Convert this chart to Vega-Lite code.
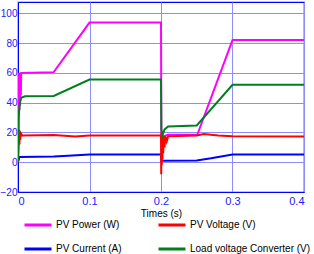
{
  "$schema": "https://vega.github.io/schema/vega-lite/v6.json",
  "width": 286,
  "height": 190,
  "autosize": "none",
  "padding": {"left": 18, "top": 2, "right": 10, "bottom": 62},
  "config": {
    "font": "Liberation Sans",
    "view": {"stroke": "#0000ff", "strokeWidth": 1.2},
    "axis": {
      "domainColor": "#0000ff",
      "gridColor": "#8c8cff",
      "gridOpacity": 1,
      "gridWidth": 1,
      "ticks": false,
      "labelColor": "#2020ff",
      "labelFontSize": 11,
      "titleFontWeight": "normal",
      "titleColor": "#000000",
      "titleFontSize": 10
    }
  },
  "data": {
    "values": [
      {"t": 0, "v": 0, "s": "PV Power (W)"},
      {"t": 0.001, "v": 40, "s": "PV Power (W)"},
      {"t": 0.0015, "v": 60, "s": "PV Power (W)"},
      {"t": 0.002, "v": 35, "s": "PV Power (W)"},
      {"t": 0.0025, "v": 60, "s": "PV Power (W)"},
      {"t": 0.003, "v": 38, "s": "PV Power (W)"},
      {"t": 0.0035, "v": 60, "s": "PV Power (W)"},
      {"t": 0.004, "v": 45, "s": "PV Power (W)"},
      {"t": 0.0045, "v": 60, "s": "PV Power (W)"},
      {"t": 0.005, "v": 60, "s": "PV Power (W)"},
      {"t": 0.05, "v": 60.5, "s": "PV Power (W)"},
      {"t": 0.1, "v": 93.8, "s": "PV Power (W)"},
      {"t": 0.2, "v": 93.8, "s": "PV Power (W)"},
      {"t": 0.2005, "v": 17, "s": "PV Power (W)"},
      {"t": 0.21, "v": 18.5, "s": "PV Power (W)"},
      {"t": 0.251, "v": 18.7, "s": "PV Power (W)"},
      {"t": 0.3, "v": 82, "s": "PV Power (W)"},
      {"t": 0.4, "v": 82, "s": "PV Power (W)"},

      {"t": 0, "v": 0, "s": "PV Current (A)"},
      {"t": 0.002, "v": 3.5, "s": "PV Current (A)"},
      {"t": 0.05, "v": 3.8, "s": "PV Current (A)"},
      {"t": 0.07, "v": 4.4, "s": "PV Current (A)"},
      {"t": 0.1, "v": 5.2, "s": "PV Current (A)"},
      {"t": 0.2, "v": 5.2, "s": "PV Current (A)"},
      {"t": 0.2005, "v": 1, "s": "PV Current (A)"},
      {"t": 0.25, "v": 1.2, "s": "PV Current (A)"},
      {"t": 0.27, "v": 2.6, "s": "PV Current (A)"},
      {"t": 0.3, "v": 5.2, "s": "PV Current (A)"},
      {"t": 0.4, "v": 5.2, "s": "PV Current (A)"},

      {"t": 0, "v": 0, "s": "PV Voltage (V)"},
      {"t": 0.001, "v": 15, "s": "PV Voltage (V)"},
      {"t": 0.0015, "v": 22, "s": "PV Voltage (V)"},
      {"t": 0.002, "v": 12, "s": "PV Voltage (V)"},
      {"t": 0.0025, "v": 21, "s": "PV Voltage (V)"},
      {"t": 0.003, "v": 15, "s": "PV Voltage (V)"},
      {"t": 0.004, "v": 19.5, "s": "PV Voltage (V)"},
      {"t": 0.006, "v": 18, "s": "PV Voltage (V)"},
      {"t": 0.05, "v": 18.2, "s": "PV Voltage (V)"},
      {"t": 0.08, "v": 17.3, "s": "PV Voltage (V)"},
      {"t": 0.1, "v": 18, "s": "PV Voltage (V)"},
      {"t": 0.2, "v": 18, "s": "PV Voltage (V)"},
      {"t": 0.2003, "v": -8, "s": "PV Voltage (V)"},
      {"t": 0.2006, "v": 20, "s": "PV Voltage (V)"},
      {"t": 0.201, "v": -2, "s": "PV Voltage (V)"},
      {"t": 0.2015, "v": 19, "s": "PV Voltage (V)"},
      {"t": 0.202, "v": 2, "s": "PV Voltage (V)"},
      {"t": 0.2025, "v": 18, "s": "PV Voltage (V)"},
      {"t": 0.203, "v": 6, "s": "PV Voltage (V)"},
      {"t": 0.204, "v": 17.5, "s": "PV Voltage (V)"},
      {"t": 0.205, "v": 10, "s": "PV Voltage (V)"},
      {"t": 0.206, "v": 17.5, "s": "PV Voltage (V)"},
      {"t": 0.208, "v": 14, "s": "PV Voltage (V)"},
      {"t": 0.21, "v": 17.5, "s": "PV Voltage (V)"},
      {"t": 0.25, "v": 18, "s": "PV Voltage (V)"},
      {"t": 0.26, "v": 19, "s": "PV Voltage (V)"},
      {"t": 0.28, "v": 18, "s": "PV Voltage (V)"},
      {"t": 0.3, "v": 17.4, "s": "PV Voltage (V)"},
      {"t": 0.4, "v": 17.3, "s": "PV Voltage (V)"},

      {"t": 0, "v": 0, "s": "Load voltage Converter (V)"},
      {"t": 0.001, "v": 30, "s": "Load voltage Converter (V)"},
      {"t": 0.002, "v": 37, "s": "Load voltage Converter (V)"},
      {"t": 0.003, "v": 41, "s": "Load voltage Converter (V)"},
      {"t": 0.005, "v": 43.5, "s": "Load voltage Converter (V)"},
      {"t": 0.01, "v": 44.3, "s": "Load voltage Converter (V)"},
      {"t": 0.05, "v": 44.5, "s": "Load voltage Converter (V)"},
      {"t": 0.1, "v": 55.5, "s": "Load voltage Converter (V)"},
      {"t": 0.2, "v": 55.5, "s": "Load voltage Converter (V)"},
      {"t": 0.2005, "v": 22, "s": "Load voltage Converter (V)"},
      {"t": 0.202, "v": 18, "s": "Load voltage Converter (V)"},
      {"t": 0.205, "v": 22, "s": "Load voltage Converter (V)"},
      {"t": 0.21, "v": 24, "s": "Load voltage Converter (V)"},
      {"t": 0.25, "v": 24.7, "s": "Load voltage Converter (V)"},
      {"t": 0.3, "v": 52, "s": "Load voltage Converter (V)"},
      {"t": 0.4, "v": 52, "s": "Load voltage Converter (V)"}
    ]
  },
  "mark": {"type": "line", "strokeWidth": 2, "clip": true},
  "encoding": {
    "x": {
      "field": "t", "type": "quantitative",
      "scale": {"domain": [0, 0.4], "nice": false},
      "axis": {"values": [0, 0.1, 0.2, 0.3, 0.4], "format": "~g", "title": "Times (s)", "titlePadding": 2, "labelPadding": 3}
    },
    "y": {
      "field": "v", "type": "quantitative",
      "scale": {"domain": [-20, 107.6], "nice": false, "zero": false},
      "axis": {"values": [-20, 0, 20, 40, 60, 80, 100], "title": null, "labelPadding": 1, "labelFontSize": 10}
    },
    "color": {
      "field": "s", "type": "nominal",
      "scale": {
        "domain": ["PV Power (W)", "PV Current (A)", "PV Voltage (V)", "Load voltage Converter (V)"],
        "range": ["#ff00ff", "#0000ff", "#ff0000", "#007f1f"]
      },
      "legend": {
        "title": null,
        "orient": "none",
        "legendX": 5,
        "legendY": 208,
        "columns": 2,
        "columnPadding": 30,
        "rowPadding": 3,
        "symbolType": "stroke",
        "symbolSize": 729,
        "symbolStrokeWidth": 3,
        "labelFontSize": 10,
        "labelColor": "#000000",
        "labelOffset": 3,
        "labelLimit": 200
      }
    },
    "order": {"field": "t"}
  }
}
